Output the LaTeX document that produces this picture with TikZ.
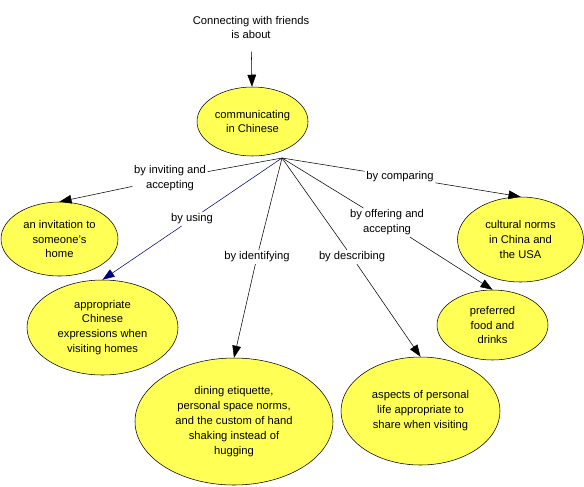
\documentclass[tikz,border=0pt]{standalone}
\usepackage{fontspec}
\setmainfont{Liberation Sans}
\usepackage{tikz}
\usetikzlibrary{arrows.meta,shapes.geometric}

\definecolor{cmapyellow}{RGB}{255,255,85}
\definecolor{cmapnavy}{RGB}{0,0,128}

\tikzset{
  concept/.style={ellipse,draw,fill=cmapyellow,inner sep=0pt,align=center,font=\fontsize{8.4}{11.2}\selectfont},
  linkword/.style={fill=white,inner sep=1.2pt,align=center,font=\fontsize{8.4}{11.2}\selectfont},
  cmaparrow/.style={-{Triangle[length=9pt,width=6.5pt]}},
}

\begin{document}
\begin{tikzpicture}[x=0.75pt,y=0.75pt,yscale=-1]
\useasboundingbox (0,0) rectangle (584,486);

% Focus question
\node (topic) [linkword] at (251,27.5) {Connecting with friends\\is about};

% Concepts
\node (comm) [concept,minimum width=83.25pt,minimum height=51.75pt] at (252.5,121.5) {communicating\\in Chinese};
\node (invite) [concept,minimum width=87.75pt,minimum height=55.5pt] at (59.5,239) {an invitation to\\someone's\\home};
\node (expr) [concept,minimum width=113.25pt,minimum height=71.25pt] at (102.5,327.5) {appropriate\\Chinese\\expressions when\\visiting homes};
\node (dining) [concept,minimum width=148.5pt,minimum height=95.25pt] at (234,421.5) {dining etiquette,\\personal space norms,\\and the custom of hand\\shaking instead of\\hugging};
\node (aspects) [concept,minimum width=119.25pt,minimum height=81pt] at (420.5,411) {aspects of personal\\life appropriate to\\share when visiting};
\node (food) [concept,minimum width=83.25pt,minimum height=52.5pt] at (492.5,325) {preferred\\food and\\drinks};
\node (norms) [concept,minimum width=94.5pt,minimum height=63.75pt] at (520.5,239.5) {cultural norms\\in China and\\the USA};

% Linking phrases
\coordinate (hub) at (282,158);
\node (l-invite) [linkword] at (170,178.5) {by inviting and\\accepting};
\node (l-using) [linkword] at (192,219) {by using};
\node (l-ident) [linkword] at (257,257) {by identifying};
\node (l-compare) [linkword] at (400,177) {by comparing};
\node (l-offer) [linkword] at (387,222.5) {by offering and\\accepting};
\node (l-describe) [linkword] at (352,257) {by describing};

% Connectors
\draw [cmaparrow,shorten <=8pt] (topic) -- (comm);
\draw (hub) -- (l-invite);
\draw [cmaparrow] (l-invite) -- (invite.north);
\draw [cmapnavy] (hub) -- (l-using);
\draw [cmapnavy,cmaparrow] (l-using) -- (expr.north);
\draw (hub) -- (l-ident);
\draw [cmaparrow] (l-ident) -- (dining.north);
\draw (hub) -- (l-describe);
\draw [cmaparrow] (l-describe) -- (aspects.north);
\draw (hub) -- (l-offer);
\draw [cmaparrow] (l-offer) -- (food.north);
\draw (hub) -- (l-compare);
\draw [cmaparrow] (l-compare) -- (norms.north);

\end{tikzpicture}
\end{document}
